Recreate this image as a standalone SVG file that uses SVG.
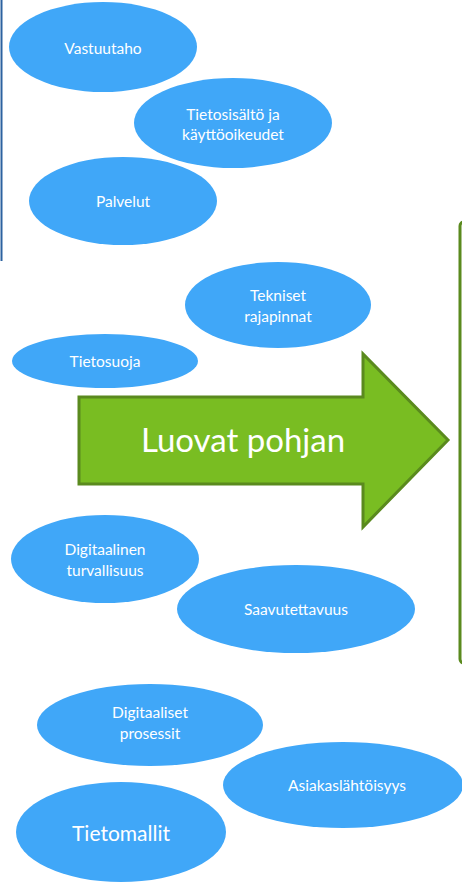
<svg xmlns="http://www.w3.org/2000/svg" width="462" height="883" viewBox="0 0 462 883">
<style>
.n ellipse{fill:#40a7f8}
.n text{fill:#fff;font-family:Lato,"Open Sans",sans-serif;font-size:15.5px;text-anchor:middle}
</style>
<rect width="462" height="883" fill="#fff"/>
<line x1="1.5" y1="0" x2="1.5" y2="261" stroke="#2c62a0" stroke-width="2"/>
<rect x="460" y="222" width="20" height="441" rx="4" fill="none" stroke="#5a8a1e" stroke-width="3"/>
<g id="vastuutaho" class="n"><ellipse cx="103" cy="47" rx="94" ry="45"/><text x="103" y="54">Vastuutaho</text></g>
<g id="tietosisalto" class="n"><ellipse cx="233" cy="123" rx="99" ry="45"/><text x="233" y="120">Tietosisältö ja</text><text x="233" y="140">käyttöoikeudet</text></g>
<g id="palvelut" class="n"><ellipse cx="123" cy="201" rx="94" ry="44"/><text x="123" y="207">Palvelut</text></g>
<g id="tekniset" class="n"><ellipse cx="278" cy="305" rx="93" ry="43"/><text x="278" y="301">Tekniset</text><text x="278" y="322">rajapinnat</text></g>
<g id="tietosuoja" class="n"><ellipse cx="105" cy="361" rx="93" ry="27"/><text x="105" y="367">Tietosuoja</text></g>
<g id="arrow">
<polygon points="79,397 363,397 363,354 448,440 363,527 363,484 79,484" fill="#79bd22" stroke="#5a8a1e" stroke-width="3" stroke-linejoin="miter"/>
<text x="243" y="452" fill="#fff" font-family="Lato,'Open Sans',sans-serif" font-size="33" text-anchor="middle">Luovat pohjan</text>
</g>
<g id="digiturva" class="n"><ellipse cx="105" cy="559" rx="94" ry="44"/><text x="105" y="555">Digitaalinen</text><text x="105" y="576">turvallisuus</text></g>
<g id="saavutettavuus" class="n"><ellipse cx="296" cy="609" rx="119" ry="44"/><text x="296" y="615">Saavutettavuus</text></g>
<g id="prosessit" class="n"><ellipse cx="150" cy="725" rx="113" ry="41"/><text x="150" y="718">Digitaaliset</text><text x="150" y="739">prosessit</text></g>
<g id="asiakas" class="n"><ellipse cx="343" cy="785" rx="120" ry="43"/><text x="347" y="791">Asiakaslähtöisyys</text></g>
<g id="tietomallit" class="n"><ellipse cx="121" cy="832" rx="105" ry="50"/><text x="121" y="841" style="font-size:21px">Tietomallit</text></g>
</svg>
